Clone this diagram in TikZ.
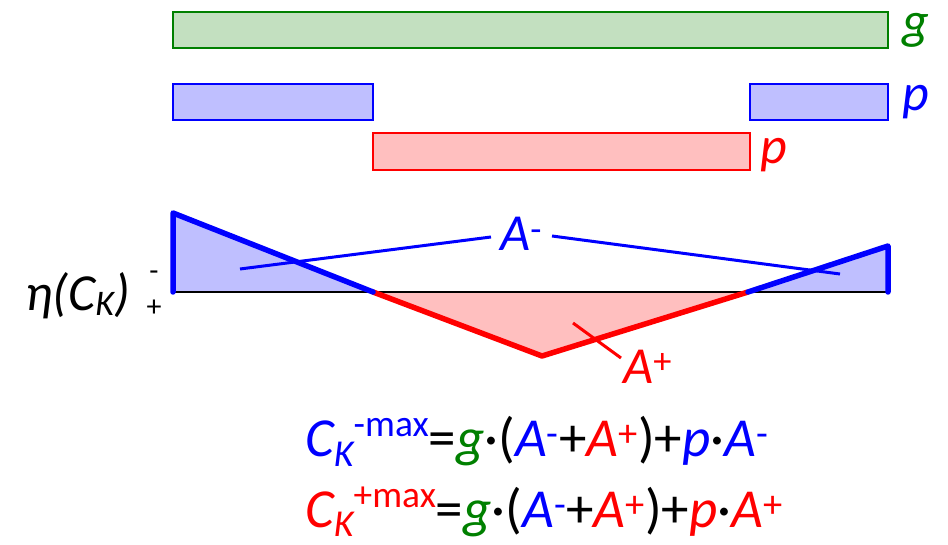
\documentclass[tikz,border=0pt]{standalone}
\usepackage{fontspec}
\setmainfont{Carlito}
\usetikzlibrary{calc}
\definecolor{gfill}{RGB}{195,224,192}
\definecolor{gline}{RGB}{0,128,0}
\definecolor{bfill}{RGB}{191,191,255}
\definecolor{rfill}{RGB}{255,191,191}
\newcommand{\cB}[1]{\textcolor{blue}{#1}}
\newcommand{\cR}[1]{\textcolor{red}{#1}}
\newcommand{\cG}[1]{\textcolor{gline}{#1}}
\newcommand{\subK}[2]{\raisebox{#2}{\fontsize{#1}{#1}\selectfont\itshape K}}
\newcommand{\supT}[1]{\raisebox{0.36em}{\fontsize{0.68em}{0.68em}\selectfont\upshape #1}}
\begin{document}
\begin{tikzpicture}[x=1pt,y=-1pt,
  barg/.style={draw=gline,fill=gfill,line width=2.5pt},
  barb/.style={draw=blue,fill=bfill,line width=2.5pt},
  barr/.style={draw=red,fill=rfill,line width=2.5pt},
  thickb/.style={draw=blue,line width=5.5pt,line join=round,line cap=round},
  thickr/.style={draw=red,line width=5.5pt,line join=round},
  leader/.style={line width=3pt},
  lbl/.style={font=\fontsize{52}{52}\selectfont\itshape,inner sep=0pt},
  formula/.style={font=\fontsize{55}{55}\selectfont,inner sep=0pt,anchor=base west}]
\useasboundingbox (0,0) rectangle (948,545);
% bars
\path[barg] (173,12) rectangle (888,48);
\path[barb] (173,84) rectangle (373,120);
\path[barb] (750,84) rectangle (888,120);
\path[barr] (373,133) rectangle (750,170);
\node[lbl,text=gline,anchor=west] (lg) at (902,30) {g};
\node[lbl,text=blue,anchor=west] (lpb) at (902,102) {p};
\node[lbl,text=red,anchor=west] (lpr) at (760,155) {p};
% diagram points
\coordinate (L0) at (173,292);
\coordinate (Lt) at (173,213);
\coordinate (Z1) at (373,292);
\coordinate (Bm) at (542,356);
\coordinate (Z2) at (748,292);
\coordinate (Rt) at (888,246);
\coordinate (R0) at (888,292);
\fill[bfill] (L0) -- (Lt) -- (Z1) -- cycle;
\fill[bfill] (Z2) -- (Rt) -- (R0) -- cycle;
\fill[rfill] (Z1) -- (Bm) -- (Z2) -- cycle;
\draw[line width=2pt] (L0) -- (R0);
\draw[thickr] (Z1) -- (Bm) -- (Z2);
\draw[thickb] (L0) -- (Lt) -- (Z1);
\draw[thickb] (Z2) -- (Rt) -- (R0);
% labels
\node[lbl,text=blue,anchor=base west] (Am) at (500,251) {A\textsuperscript{\upshape -}};
\node[lbl,text=red,anchor=base west] (Ap) at (623,383) {A\textsuperscript{\upshape +}};
\coordinate (am1) at (240,269);
\coordinate (am2) at (840,274);
\coordinate (ap1) at (573,323);
\draw[blue,leader] (am1) -- (491,237);
\draw[blue,leader] (552,236) -- (am2);
\draw[red,leader] (ap1) -- (621,358);
\node[lbl,anchor=base east] (eta) at (130,311) {η(C\subK{36}{-5pt})};
\node[inner sep=0pt,font=\fontsize{30}{30}\selectfont] (mn) at (154,276) {-};
\node[inner sep=0pt,font=\fontsize{30}{30}\selectfont] (pl) at (154,308) {+};
% formulas
\node[formula] (f1) at (305,456) {\cB{\itshape C\subK{38}{-10pt}}\cB{\supT{-max}}=\cG{\itshape g}·(\cB{\itshape A}\cB{\textsuperscript{-}}+\cR{\itshape A}\cR{\textsuperscript{+}})+\cB{\itshape p}·\cB{\itshape A}\cB{\textsuperscript{-}}};
\node[formula] (f2) at (305,527) {\cR{\itshape C\subK{38}{-9pt}}\cR{\supT{+max}}=\cG{\itshape g}·(\cB{\itshape A}\cB{\textsuperscript{-}}+\cR{\itshape A}\cR{\textsuperscript{+}})+\cR{\itshape p}·\cR{\itshape A}\cR{\textsuperscript{+}}};
\end{tikzpicture}
\end{document}
